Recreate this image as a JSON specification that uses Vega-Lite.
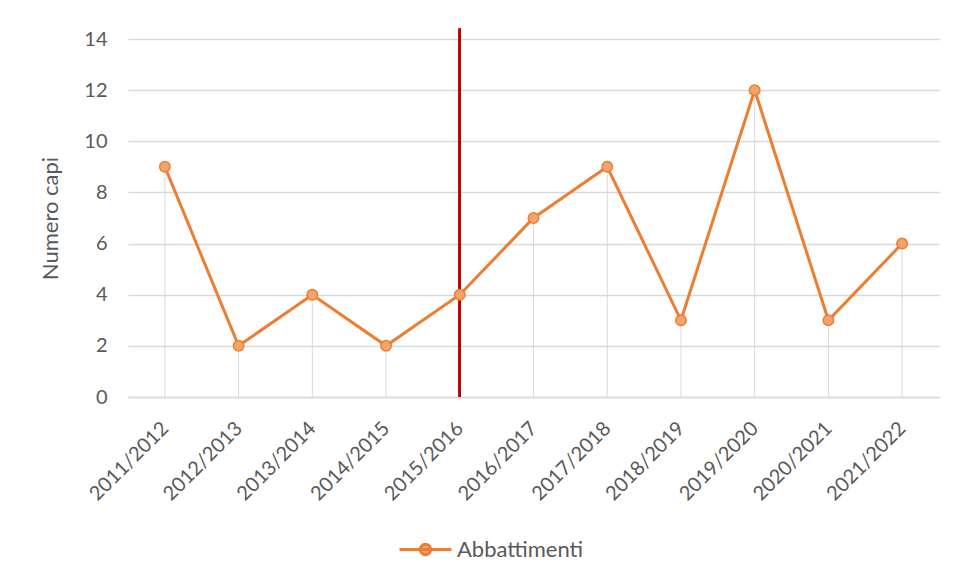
{
  "$schema": "https://vega.github.io/schema/vega-lite/v6.json",
  "autosize": "none",
  "width": 811,
  "height": 358,
  "padding": {"left": 128, "top": 39, "right": 17, "bottom": 184},
  "background": "white",
  "config": {
    "font": "Lato",
    "view": {"stroke": null},
    "axis": {"labelColor": "#595959", "titleColor": "#595959", "labelFont": "Lato", "titleFont": "Lato"}
  },
  "data": {
    "values": [
      {"season": "2011/2012", "capi": 9, "serie": "Abbattimenti"},
      {"season": "2012/2013", "capi": 2, "serie": "Abbattimenti"},
      {"season": "2013/2014", "capi": 4, "serie": "Abbattimenti"},
      {"season": "2014/2015", "capi": 2, "serie": "Abbattimenti"},
      {"season": "2015/2016", "capi": 4, "serie": "Abbattimenti"},
      {"season": "2016/2017", "capi": 7, "serie": "Abbattimenti"},
      {"season": "2017/2018", "capi": 9, "serie": "Abbattimenti"},
      {"season": "2018/2019", "capi": 3, "serie": "Abbattimenti"},
      {"season": "2019/2020", "capi": 12, "serie": "Abbattimenti"},
      {"season": "2020/2021", "capi": 3, "serie": "Abbattimenti"},
      {"season": "2021/2022", "capi": 6, "serie": "Abbattimenti"}
    ]
  },
  "encoding": {
    "x": {
      "field": "season", "type": "nominal", "sort": null,
      "scale": {"type": "point", "padding": 0.5},
      "axis": {
        "title": null, "labelAngle": -45, "labelAlign": "right", "labelBaseline": "middle",
        "labelFontSize": 20, "labelPadding": 28, "ticks": false,
        "domainColor": "#d9d9d9", "domainWidth": 1.5, "grid": false
      }
    },
    "y": {
      "field": "capi", "type": "quantitative",
      "scale": {"domain": [0, 14], "nice": false},
      "axis": {
        "title": "Numero capi", "titleFontSize": 22, "titleFontWeight": "normal", "titlePadding": 21,
        "values": [0, 2, 4, 6, 8, 10, 12, 14], "labelFontSize": 20, "labelPadding": 21,
        "ticks": false, "domain": false, "gridColor": "#d9d9d9", "gridWidth": 1.5
      }
    }
  },
  "layer": [
    {
      "mark": {"type": "rule", "color": "#d9d9d9", "strokeWidth": 1},
      "encoding": {"y2": {"datum": 0}}
    },
    {
      "mark": {"type": "rule", "color": "#C00000", "strokeWidth": 2, "clip": false},
      "encoding": {
        "x": {"datum": "2015/2016"},
        "y": {"datum": 0},
        "y2": {"datum": 14.4}
      }
    },
    {
      "mark": {"type": "line", "strokeWidth": 3},
      "encoding": {
        "color": {
          "field": "serie", "type": "nominal",
          "scale": {"domain": ["Abbattimenti"], "range": ["#ED7D31"]},
          "legend": {
            "title": null, "orient": "none", "legendX": 270, "legendY": 483,
            "symbolType": "M-1,0L1,0M0.2,0A0.2,0.2,0,1,1,-0.2,0A0.2,0.2,0,1,1,0.2,0Z",
            "symbolSize": 2704, "symbolStrokeWidth": 3, "symbolFillColor": "#F2A46E",
            "labelFontSize": 22, "labelColor": "#595959", "labelFont": "Lato", "labelOffset": 4
          }
        }
      }
    },
    {
      "mark": {"type": "point", "filled": true, "size": 110, "fill": "#F2A46E", "stroke": "#ED7D31", "strokeWidth": 1.5, "opacity": 1}
    }
  ]
}
